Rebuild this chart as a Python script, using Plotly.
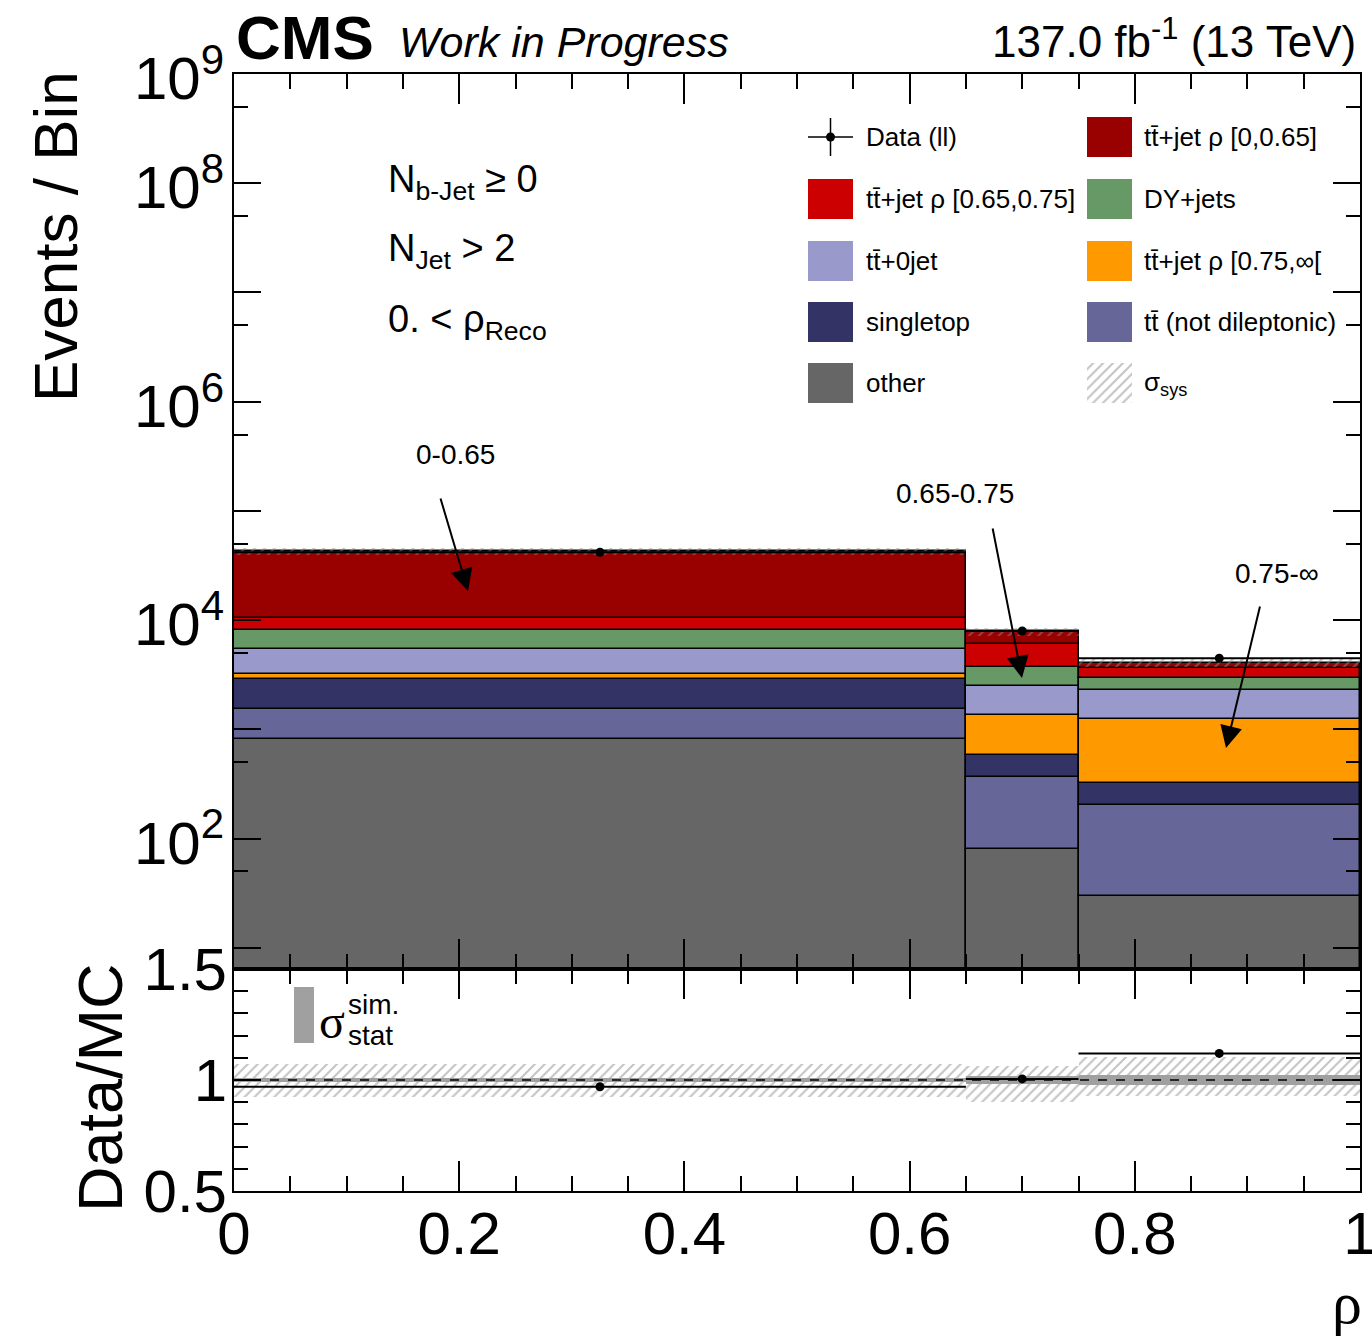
import numpy as np
import plotly.graph_objects as go

# ---------------- data ----------------
bin_edges = [0.0, 0.65, 0.75, 1.0]

# stacked components, bottom -> top (events per bin)
other = [815, 81, 29.7]
tt_not_dilep = [710, 282, 173]
singletop = [1345, 219, 121]
ttjet_rho_075_inf = [340, 770, 911]
tt_0jet = [2220, 1158, 1055]
dy_jets = [2740, 1230, 680]
ttjet_rho_065_075 = [2210, 2300, 650]
ttjet_rho_0_065 = [32720, 1880, 390]

data_ll = [41800, 7960, 4490]

# relative uncertainties on the simulation
sys_up = [0.072, 0.063, 0.105]
sys_down = [0.078, 0.100, 0.072]
stat_mc = [0.008, 0.017, 0.023]

x_tick_vals = [0.0, 0.2, 0.4, 0.6, 0.8, 1.0]
x_tick_text = ["0", "0.2", "0.4", "0.6", "0.8", "1"]
y_main_tick_vals = [1e1, 1e2, 1e3, 1e4, 1e5, 1e6, 1e7, 1e8, 1e9]
y_main_tick_text = [" ", "10<sup>2</sup>", " ", "10<sup>4</sup>", " ", "10<sup>6</sup>", " ",
                    "10<sup>8</sup>", "10<sup>9</sup>"]
y_main_minor_vals = [5e0, 5e1, 5e2, 5e3, 5e4, 5e5, 5e6, 5e7, 5e8]
y_ratio_tick_vals = [0.5, 1.0, 1.5]
y_ratio_tick_text = ["0.5", "1", "1.5"]

stack = [
    ("other", other, "#666666"),
    ("tt̄ (not dileptonic)", tt_not_dilep, "#666699"),
    ("singletop", singletop, "#333366"),
    ("tt̄+jet ρ [0.75,∞[", ttjet_rho_075_inf, "#ff9900"),
    ("tt̄+0jet", tt_0jet, "#9999cc"),
    ("DY+jets", dy_jets, "#669966"),
    ("tt̄+jet ρ [0.65,0.75]", ttjet_rho_065_075, "#cc0000"),
    ("tt̄+jet ρ [0,0.65]", ttjet_rho_0_065, "#990000"),
]

# ---------------- geometry helpers ----------------
W, H = 1372, 1339
L, R, T, B = 234, 1360, 74, 1191          # plot area in pixels
RATIO_TOP = 969
ratio_frac = (B - RATIO_TOP) / (B - T)


def P(x, y):
    return (x - L) / (R - L), (B - y) / (B - T)


FONT = "Liberation Sans, Arial, Helvetica, sans-serif"
SERIF = "Liberation Serif, DejaVu Serif, serif"

edges = np.array(bin_edges)
centers = (edges[:-1] + edges[1:]) / 2
widths = edges[1:] - edges[:-1]

fig = go.Figure()

# ---------------- main stack ----------------
base = np.full(len(centers), 1e-3)
for name, vals, color in stack:
    v = np.array(vals, dtype=float)
    fig.add_trace(go.Bar(
        x=centers, y=v, base=base.copy(), width=widths, name=name,
        marker=dict(color=color, line=dict(color="black", width=1.5)),
        showlegend=False, xaxis="x", yaxis="y"))
    base = base + v
mc_total = base - 1e-3

su = np.array(sys_up)
sd = np.array(sys_down)
st = np.array(stat_mc)
data = np.array(data_ll, dtype=float)

hatch = dict(shape="/", fgcolor="#8a8a8a", bgcolor="rgba(0,0,0,0)", size=7,
             solidity=0.3, fillmode="overlay")

fig.add_trace(go.Bar(
    x=centers, base=mc_total * (1 - sd), y=mc_total * (su + sd), width=widths,
    marker=dict(color="rgba(0,0,0,0)", line=dict(width=0), pattern=hatch),
    showlegend=False, xaxis="x", yaxis="y"))

fig.add_trace(go.Scatter(
    x=centers, y=data, mode="markers",
    marker=dict(color="black", size=9),
    error_x=dict(type="data", array=widths / 2, width=0, thickness=2, color="black"),
    error_y=dict(type="data", array=np.sqrt(data), width=0, thickness=2, color="black"),
    showlegend=False, xaxis="x", yaxis="y"))

# ---------------- ratio panel ----------------
ratio = data / mc_total
ratio_err = np.sqrt(data) / mc_total

fig.add_trace(go.Bar(
    x=centers, base=1 - sd, y=su + sd, width=widths,
    marker=dict(color="rgba(0,0,0,0)", line=dict(width=0), pattern=hatch),
    showlegend=False, xaxis="x2", yaxis="y2"))
fig.add_trace(go.Bar(
    x=centers, base=1 - st, y=2 * st, width=widths,
    marker=dict(color="#a0a0a0", line=dict(width=0)),
    showlegend=False, xaxis="x2", yaxis="y2"))
fig.add_trace(go.Scatter(
    x=[0, 1], y=[1, 1], mode="lines",
    line=dict(color="black", width=1.5, dash="dash"),
    showlegend=False, xaxis="x2", yaxis="y2"))
fig.add_trace(go.Scatter(
    x=centers, y=ratio, mode="markers",
    marker=dict(color="black", size=9),
    error_x=dict(type="data", array=widths / 2, width=0, thickness=2, color="black"),
    error_y=dict(type="data", array=ratio_err, width=0, thickness=2, color="black"),
    showlegend=False, xaxis="x2", yaxis="y2"))

# ---------------- legend glyphs (pixel overlay axes) ----------------
rows_y = [137, 199, 261, 322, 383]
col_box_x = [808, 1087]
col_text_x = [864, 1142]
box_w, box_h = 45, 40

legend_items = [
    # (label, color, col, row)
    ("Data (ll)", None, 0, 0),
    ("tt̄+jet ρ [0,0.65]", "#990000", 1, 0),
    ("tt̄+jet ρ [0.65,0.75]", "#cc0000", 0, 1),
    ("DY+jets", "#669966", 1, 1),
    ("tt̄+0jet", "#9999cc", 0, 2),
    ("tt̄+jet ρ [0.75,∞[", "#ff9900", 1, 2),
    ("singletop", "#333366", 0, 3),
    ("tt̄ (not dileptonic)", "#666699", 1, 3),
    ("other", "#666666", 0, 4),
    ("σ<sub>sys</sub>", "hatch", 1, 4),
]

annotations = []
for label, color, c, r in legend_items:
    x0 = col_box_x[c]
    yc = rows_y[r]
    if color is None:
        fig.add_trace(go.Scatter(
            x=[x0, x0 + box_w, None, x0 + box_w / 2, x0 + box_w / 2],
            y=[yc, yc, None, yc - 19, yc + 19], mode="lines",
            line=dict(color="black", width=1.5), showlegend=False,
            xaxis="x3", yaxis="y3", hoverinfo="skip"))
        fig.add_trace(go.Scatter(
            x=[x0 + box_w / 2], y=[yc], mode="markers",
            marker=dict(color="black", size=9), showlegend=False,
            xaxis="x3", yaxis="y3", hoverinfo="skip"))
    else:
        xs = [x0, x0 + box_w, x0 + box_w, x0, x0]
        ys = [yc - box_h / 2, yc - box_h / 2, yc + box_h / 2, yc + box_h / 2, yc - box_h / 2]
        if color == "hatch":
            fig.add_trace(go.Scatter(
                x=xs, y=ys, mode="lines", fill="toself",
                fillcolor="rgba(0,0,0,0)", line=dict(width=0),
                fillpattern=dict(shape="/", fgcolor="#8a8a8a", bgcolor="white",
                                 size=7, solidity=0.3),
                showlegend=False, xaxis="x3", yaxis="y3", hoverinfo="skip"))
        else:
            fig.add_trace(go.Scatter(
                x=xs, y=ys, mode="lines", fill="toself", fillcolor=color,
                line=dict(width=0), showlegend=False,
                xaxis="x3", yaxis="y3", hoverinfo="skip"))
    px_, py_ = P(col_text_x[c], yc)
    annotations.append(dict(x=px_, y=py_, xref="paper", yref="paper", text=label,
                            showarrow=False, xanchor="left", yanchor="middle",
                            font=dict(size=26, family=FONT, color="black")))

# ratio legend (gray stat box)
fig.add_trace(go.Scatter(
    x=[294, 314, 314, 294, 294], y=[987, 987, 1043, 1043, 987], mode="lines",
    fill="toself", fillcolor="#a0a0a0", line=dict(width=0), showlegend=False,
    xaxis="x3", yaxis="y3", hoverinfo="skip"))


def add_text(x, y, text, size, xanchor="left", family=FONT, angle=0, yanchor="middle"):
    px_, py_ = P(x, y)
    annotations.append(dict(x=px_, y=py_, xref="paper", yref="paper", text=text,
                            showarrow=False, xanchor=xanchor, yanchor=yanchor,
                            textangle=angle, font=dict(size=size, family=family, color="black")))


add_text(317, 1022, "σ", 48, family=SERIF)
add_text(346, 1004, "sim.", 28)
add_text(346, 1035, "stat", 28)

# header
add_text(234, 37, "<b>CMS</b>", 62)
add_text(397, 42, "<i>Work in Progress</i>", 43)
add_text(1358, 39, "137.0 fb<sup>-1</sup> (13 TeV)", 44, xanchor="right")

# cut labels
add_text(386, 182, "N<sub>b-Jet</sub> ≥ 0", 38)
add_text(386, 251, "N<sub>Jet</sub> &gt; 2", 38)
add_text(386, 322, "0. &lt; ρ<sub>Reco</sub>", 38)

# axis titles
add_text(55, 237, "Events / Bin", 62, xanchor="center", angle=-90)
add_text(100, 1088, "Data/MC", 63, xanchor="center", angle=-90)
add_text(1347, 1303, "ρ", 60, xanchor="center", family=SERIF)

# bin annotations with arrows
arrow_labels = [("0-0.65", (455, 455), (438, 490), (468, 591)),
                ("0.65-0.75", (955, 493), (991, 520), (1022, 678)),
                ("0.75-∞", (1277, 573), (1262, 598), (1226, 748))]
for text, tpos, tail, head in arrow_labels:
    add_text(tpos[0], tpos[1], text, 28, xanchor="center")
    hx, hy = P(*head)
    annotations.append(dict(x=hx, y=hy, xref="paper", yref="paper", text=" ",
                            showarrow=True, arrowhead=2, arrowsize=2.2, arrowwidth=2,
                            arrowcolor="black", ax=tail[0] - head[0], ay=tail[1] - head[1],
                            axref="pixel", ayref="pixel"))

axis_common = dict(showline=True, linewidth=2, linecolor="black", mirror="allticks",
                   ticks="inside", tickcolor="black", tickwidth=1.5, showgrid=False,
                   zeroline=False, ticklabeloverflow="allow", automargin=False)

minor_x = dict(tickmode="array", tickvals=list(np.round(np.arange(0, 1.0001, 0.05), 3)),
               ticks="inside", ticklen=15, tickwidth=1.5, tickcolor="black", showgrid=False)

fig.update_layout(
    width=W, height=H,
    margin=dict(l=L, r=W - R, t=T, b=H - B, pad=0, autoexpand=False),
    paper_bgcolor="white", plot_bgcolor="rgba(0,0,0,0)",
    barmode="overlay", bargap=0,
    font=dict(family=FONT, color="black"),
    showlegend=False,
    xaxis=dict(domain=[0, 1], range=[0, 1], anchor="y", tickmode="array",
               tickvals=x_tick_vals, ticklen=30, showticklabels=False,
               minor=minor_x, **axis_common),
    yaxis=dict(domain=[ratio_frac, 1], type="log", range=[np.log10(6.4), 9], anchor="x",
               tickmode="array", tickvals=y_main_tick_vals, ticktext=y_main_tick_text,
               ticklen=27, tickfont=dict(size=60, family=FONT),
               ticklabelstandoff=-4, ticklabelshift=4,
               minor=dict(tickmode="array", tickvals=y_main_minor_vals, ticks="inside",
                          ticklen=14, tickwidth=1.5, tickcolor="black", showgrid=False),
               **axis_common),
    xaxis2=dict(domain=[0, 1], range=[0, 1], anchor="y2", tickmode="array",
                tickvals=x_tick_vals, ticktext=x_tick_text, ticklen=30,
                tickfont=dict(size=60, family=FONT), ticklabelstandoff=-11,
                minor=minor_x, **axis_common),
    yaxis2=dict(domain=[0, ratio_frac], range=[0.5, 1.5], anchor="x2", tickmode="array",
                tickvals=y_ratio_tick_vals, ticktext=y_ratio_tick_text, ticklen=27,
                tickfont=dict(size=60, family=FONT), ticklabelstandoff=-7,
                minor=dict(tickmode="array",
                           tickvals=list(np.round(np.arange(0.5, 1.5001, 0.1), 3)),
                           ticks="inside", ticklen=14, tickwidth=1.5, tickcolor="black",
                           showgrid=False),
                **axis_common),
    xaxis3=dict(domain=[0, 1], range=[L, R], anchor="y3", visible=False, fixedrange=True),
    yaxis3=dict(domain=[0, 1], range=[B, T], anchor="x3", visible=False, fixedrange=True),
    annotations=annotations,
)

fig.write_html("out.html")
